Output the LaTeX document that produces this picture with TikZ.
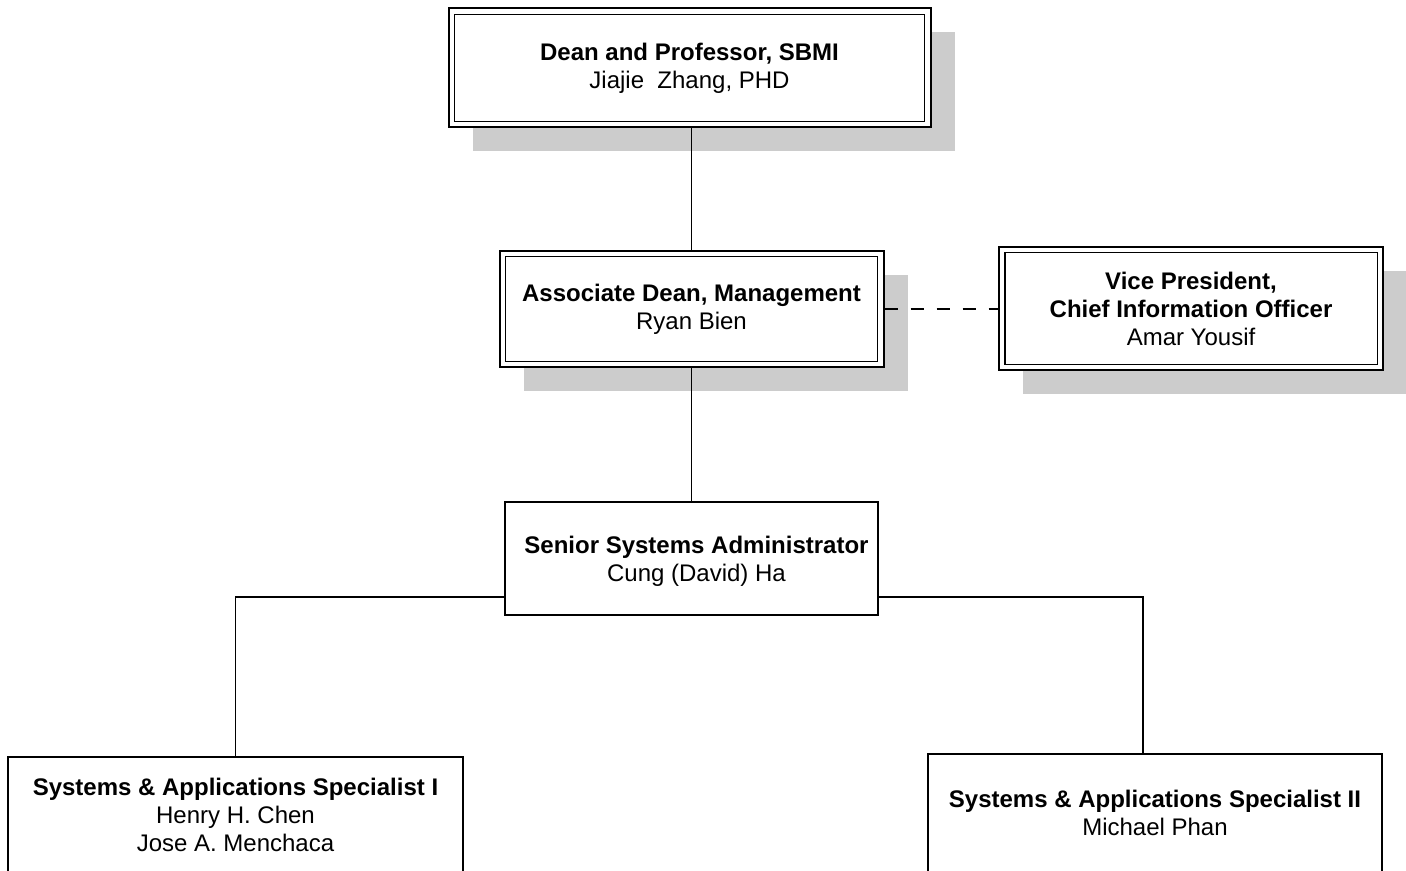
\documentclass[tikz,border=0pt]{standalone}
\usepackage{fontspec}
\setmainfont{Liberation Sans}
\usetikzlibrary{shadows}
\begin{document}
\begin{tikzpicture}[x=0.5pt,y=-0.5pt,
  box/.style={draw, fill=white, line width=0.9pt, align=center, inner sep=0pt,
    font=\fontsize{12pt}{14pt}\selectfont},
  dbl/.style={box, line width=1pt,
    path picture={\draw[line width=0.7pt]
      ([xshift=2.9pt,yshift=-2.9pt]path picture bounding box.north west) rectangle
      ([xshift=-2.9pt,yshift=2.9pt]path picture bounding box.south east);}},
  shad/.style={drop shadow={shadow xshift=12pt, shadow yshift=-12pt, fill=black!20, opacity=1}},
  conn/.style={line width=0.9pt},
  dashconn/.style={conn, dash pattern=on 6.5pt off 6.5pt}]
\useasboundingbox (0,0) rectangle (1406,871);
\clip (0,0) rectangle (1406,871);
\fill[white] (0,0) rectangle (1406,871);

\node[dbl, shad, minimum width=241pt, minimum height=59.5pt] (top) at (689.5,68)
  {\textbf{Dean and Professor, SBMI}\\Jiajie\ \ Zhang, PHD};
\node[dbl, shad, minimum width=192pt, minimum height=58pt] (ad) at (691.5,309)
  {\textbf{Associate Dean, Management}\\Ryan Bien};
\node[dbl, shad, minimum width=192pt, minimum height=61.5pt] (vp) at (1191,308.5)
  {\textbf{Vice President,}\\\textbf{Chief Information Officer}\\Amar Yousif};
\node[box, minimum width=186.5pt, minimum height=56.5pt, text depth=0pt] (ssa) at (691.5,558.5)
  {\hspace*{5pt}\textbf{Senior Systems Administrator}\\\hspace*{5pt}Cung (David) Ha};
\node[box, anchor=north, minimum width=227.5pt, inner ysep=10.5pt, text depth=100pt] (sas1) at (235.5,756)
  {\textbf{Systems \& Applications Specialist I}\\Henry H. Chen\\Jose A. Menchaca};
\node[box, anchor=north, minimum width=227pt, inner ysep=18pt, text depth=100pt] (sas2) at (1155,753)
  {\textbf{Systems \& Applications Specialist II}\\Michael Phan};

\draw[conn] (top.south -| ad.north) -- (ad.north);
\draw[conn] (ad.south) -- (ad.south |- ssa.north);
\draw[dashconn] (ad.east) -- (ad.east -| vp.west);
\draw[conn] ([yshift=-19.25pt]ssa.west) -| (sas1.north);
\draw[conn] ([yshift=-19.25pt]ssa.east) -| ([xshift=-6pt]sas2.north);
\end{tikzpicture}
\end{document}
